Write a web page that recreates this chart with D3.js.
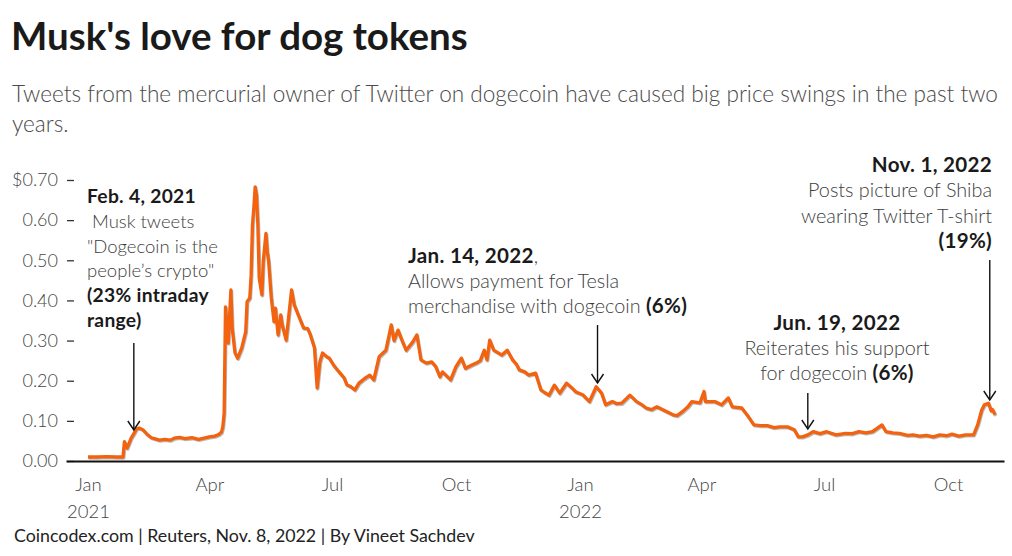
<!DOCTYPE html>
<html><head><meta charset="utf-8">
<script src="https://cdn.jsdelivr.net/npm/d3@7"></script>
<style>
body{margin:0;background:#fff;}
svg{display:block;font-family:Lato,"Open Sans",sans-serif;}
</style></head>
<body><svg id="c" width="1012" height="556"></svg>
<script>
const dates = ["2021-01-01","2021-01-08","2021-01-15","2021-01-22","2021-01-27","2021-01-28","2021-01-30","2021-02-02","2021-02-04","2021-02-06","2021-02-08","2021-02-11","2021-02-14","2021-02-17","2021-02-20","2021-02-23","2021-02-27","2021-03-03","2021-03-06","2021-03-10","2021-03-14","2021-03-19","2021-03-24","2021-03-28","2021-04-01","2021-04-05","2021-04-08","2021-04-10","2021-04-11","2021-04-12","2021-04-13","2021-04-15","2021-04-17","2021-04-18","2021-04-20","2021-04-22","2021-04-25","2021-04-28","2021-04-29","2021-05-01","2021-05-02","2021-05-03","2021-05-04","2021-05-05","2021-05-06","2021-05-07","2021-05-08","2021-05-10","2021-05-11","2021-05-13","2021-05-14","2021-05-15","2021-05-17","2021-05-19","2021-05-20","2021-05-22","2021-05-24","2021-05-25","2021-05-28","2021-05-30","2021-06-01","2021-06-03","2021-06-05","2021-06-08","2021-06-10","2021-06-13","2021-06-15","2021-06-18","2021-06-20","2021-06-22","2021-06-24","2021-06-27","2021-06-29","2021-07-02","2021-07-04","2021-07-07","2021-07-10","2021-07-12","2021-07-15","2021-07-18","2021-07-21","2021-07-25","2021-07-29","2021-08-01","2021-08-05","2021-08-10","2021-08-14","2021-08-16","2021-08-19","2021-08-22","2021-08-25","2021-08-30","2021-09-02","2021-09-05","2021-09-09","2021-09-13","2021-09-16","2021-09-19","2021-09-21","2021-09-24","2021-09-27","2021-10-01","2021-10-05","2021-10-08","2021-10-12","2021-10-16","2021-10-19","2021-10-22","2021-10-24","2021-10-26","2021-10-29","2021-11-01","2021-11-04","2021-11-08","2021-11-12","2021-11-15","2021-11-17","2021-11-21","2021-11-24","2021-11-29","2021-12-03","2021-12-06","2021-12-09","2021-12-13","2021-12-17","2021-12-22","2021-12-26","2021-12-29","2022-01-03","2022-01-08","2022-01-13","2022-01-17","2022-01-20","2022-01-25","2022-01-28","2022-02-01","2022-02-07","2022-02-12","2022-02-16","2022-02-19","2022-02-23","2022-02-27","2022-03-05","2022-03-11","2022-03-14","2022-03-18","2022-03-22","2022-03-25","2022-03-31","2022-04-03","2022-04-04","2022-04-11","2022-04-16","2022-04-21","2022-04-24","2022-05-01","2022-05-06","2022-05-08","2022-05-10","2022-05-15","2022-05-20","2022-05-25","2022-05-29","2022-06-04","2022-06-09","2022-06-12","2022-06-15","2022-06-19","2022-06-23","2022-06-28","2022-07-03","2022-07-10","2022-07-17","2022-07-22","2022-07-27","2022-08-01","2022-08-06","2022-08-13","2022-08-16","2022-08-21","2022-08-26","2022-09-01","2022-09-05","2022-09-10","2022-09-15","2022-09-20","2022-09-25","2022-09-30","2022-10-04","2022-10-09","2022-10-14","2022-10-20","2022-10-23","2022-10-26","2022-10-28","2022-10-31","2022-11-01","2022-11-02","2022-11-03","2022-11-05"];
const prices = [0.010,0.010,0.011,0.010,0.010,0.048,0.032,0.057,0.068,0.080,0.082,0.077,0.066,0.058,0.055,0.052,0.054,0.052,0.057,0.059,0.056,0.058,0.054,0.057,0.060,0.062,0.066,0.072,0.085,0.120,0.384,0.294,0.426,0.330,0.270,0.256,0.281,0.322,0.397,0.406,0.463,0.588,0.630,0.683,0.663,0.588,0.456,0.414,0.497,0.567,0.521,0.497,0.405,0.347,0.381,0.314,0.364,0.340,0.301,0.364,0.426,0.389,0.372,0.347,0.331,0.330,0.314,0.282,0.182,0.247,0.269,0.260,0.256,0.240,0.231,0.219,0.207,0.190,0.185,0.177,0.194,0.205,0.214,0.202,0.260,0.276,0.339,0.300,0.326,0.300,0.276,0.297,0.314,0.252,0.244,0.247,0.235,0.210,0.222,0.212,0.202,0.235,0.256,0.231,0.238,0.244,0.250,0.276,0.252,0.301,0.276,0.270,0.264,0.276,0.252,0.240,0.227,0.222,0.214,0.219,0.177,0.170,0.164,0.189,0.169,0.194,0.182,0.172,0.165,0.148,0.185,0.169,0.140,0.148,0.143,0.144,0.164,0.148,0.140,0.132,0.128,0.135,0.125,0.115,0.113,0.123,0.135,0.148,0.145,0.173,0.148,0.148,0.140,0.157,0.135,0.132,0.110,0.100,0.090,0.088,0.088,0.083,0.085,0.085,0.078,0.060,0.060,0.065,0.073,0.068,0.073,0.065,0.069,0.068,0.073,0.070,0.073,0.090,0.073,0.070,0.069,0.064,0.065,0.062,0.064,0.060,0.065,0.063,0.067,0.062,0.065,0.065,0.090,0.127,0.140,0.144,0.135,0.125,0.128,0.115];
const yTicks = [0,0.1,0.2,0.3,0.4,0.5,0.6,0.7];
const xTickDates = ["2021-01-01","2021-04-01","2021-07-01","2021-10-01","2022-01-01","2022-04-01","2022-07-01","2022-10-01"];
const xTickLabels = [["Jan","2021"],["Apr",""],["Jul",""],["Oct",""],["Jan","2022"],["Apr",""],["Jul",""],["Oct",""]];
const eventDates = ["2021-02-04","2022-01-14","2022-06-19","2022-11-01"];
const eventLines = [
  [["b","Feb. 4, 2021"],["l"," Musk tweets"],["l","\"Dogecoin is the"],["l","people\u2019s crypto\""],["b","(23% intraday"],["b","range)"]],
  [["b","Jan. 14, 2022",","],["l","Allows payment for Tesla"],["l","merchandise with dogecoin ","(6%)"]],
  [["b","Jun. 19, 2022"],["l","Reiterates his support"],["l","for dogecoin ","(6%)"]],
  [["b","Nov. 1, 2022"],["l","Posts picture of Shiba"],["l","wearing Twitter T-shirt"],["b","(19%)"]]
];

const parse = d3.timeParse("%Y-%m-%d");
const data = dates.map((d,i)=>({date:parse(d), v:prices[i]}));
const svg = d3.select("#c");

// scales
const xRef = d3.scaleTime().domain([parse("2021-01-01"), parse("2022-01-01")]).range([88,580]);
const x = d3.scaleTime().domain([xRef.invert(66), xRef.invert(1004)]).range([66,1004]);
const y = d3.scaleLinear().domain([0,0.7]).range([461,180]);

// title & subtitle
svg.append("text").attr("x",11).attr("y",50).attr("font-size",38.5).attr("font-weight",700).attr("fill","#1a1a1a").text("Musk's love for dog tokens");
const sub = svg.append("text").attr("x",12).attr("font-size",22.6).attr("font-weight",300).attr("fill","#4a4a4a");
sub.append("tspan").attr("x",12).attr("y",102).text("Tweets from the mercurial owner of Twitter on dogecoin have caused big price swings in the past two");
sub.append("tspan").attr("x",12).attr("y",132).text("years.");

// y axis
const yAx = svg.append("g").attr("transform","translate(74,0)")
  .call(d3.axisLeft(y).tickValues(yTicks).tickSize(7).tickPadding(9)
    .tickFormat((d,i)=> (i===yTicks.length-1?"$":"") + d3.format(".2f")(d)));
yAx.select(".domain").remove();
yAx.selectAll(".tick line").attr("stroke","#333").attr("stroke-width",1.3);
yAx.selectAll(".tick text").attr("font-size",18).attr("fill","#444").attr("font-weight",300).attr("font-family","Lato");

// x axis
const xAx = svg.append("g").attr("transform","translate(0,461)")
  .call(d3.axisBottom(x).tickValues(xTickDates.map(parse)).tickSize(0).tickPadding(0).tickFormat(""));
xAx.select(".domain").attr("stroke","#111").attr("stroke-width",2);
xAx.selectAll(".tick").each(function(d,i){
  const t = d3.select(this).append("text").attr("fill","#444").attr("font-size",18.5).attr("font-weight",300)
    .attr("font-family","Lato").attr("text-anchor","middle");
  t.append("tspan").attr("x",0).attr("y",30).text(xTickLabels[i][0]);
  if (xTickLabels[i][1]) t.append("tspan").attr("x",0).attr("y",57).text(xTickLabels[i][1]);
});

// line
const line = d3.line().x(d=>x(d.date)).y(d=>y(d.v)).curve(d3.curveLinear);
svg.append("path").datum(data).attr("d",line).attr("fill","none").attr("stroke","#777").attr("stroke-opacity",0.5)
  .attr("stroke-width",3.2).attr("stroke-linejoin","round").attr("transform","translate(0.8,1.1)");
svg.append("path").datum(data).attr("d",line).attr("fill","none").attr("stroke","#f2620f")
  .attr("stroke-width",3.3).attr("stroke-linejoin","round");

// annotations
const annot = [
  {anchor:"start", tx:87, ty:203, lh:24.8, fs:18.5, y1:343, y2:430},
  {anchor:"start", tx:408, ty:263, lh:25, fs:19.8, y1:325, y2:383},
  {anchor:"middle", tx:837, ty:330, lh:25, fs:19.8, y1:393, y2:429},
  {anchor:"end", tx:992, ty:172, lh:25.4, fs:19.8, y1:260, y2:400}
];
function arrow(g, xx, y1, y2){
  g.append("line").attr("x1",xx).attr("x2",xx).attr("y1",y1).attr("y2",y2).attr("stroke","#111").attr("stroke-width",1.4);
  g.append("path").attr("d",`M${xx-6},${y2-9}L${xx},${y2}L${xx+6},${y2-9}`).attr("fill","none").attr("stroke","#111").attr("stroke-width",1.4);
}
eventDates.forEach((ed,i)=>{
  const a = annot[i];
  const g = svg.append("g");
  const t = g.append("text").attr("text-anchor",a.anchor).attr("font-size",a.fs);
  const bold = s => s.attr("font-weight",700).attr("fill","#1a1a1a").attr("font-size",a.fs*1.04).attr("letter-spacing",0.3);
  const light = s => s.attr("font-weight",300).attr("fill","#3d3d3d");
  eventLines[i].forEach((ln,j)=>{
    const ts = t.append("tspan").attr("x",a.tx).attr("y",a.ty + j*a.lh);
    const first = ts.append("tspan").text(ln[1]);
    if (ln[0]==="b") bold(first); else light(first);
    if (ln[2]) {
      const second = ts.append("tspan").text(ln[2]);
      if (ln[0]==="b") light(second); else bold(second);
    }
  });
  arrow(g, x(parse(ed)), a.y1, a.y2);
});

// footer
svg.append("text").attr("x",14).attr("y",542).attr("font-size",17.8).attr("fill","#222").text("Coincodex.com | Reuters, Nov. 8, 2022 | By Vineet Sachdev");
</script></body></html>
